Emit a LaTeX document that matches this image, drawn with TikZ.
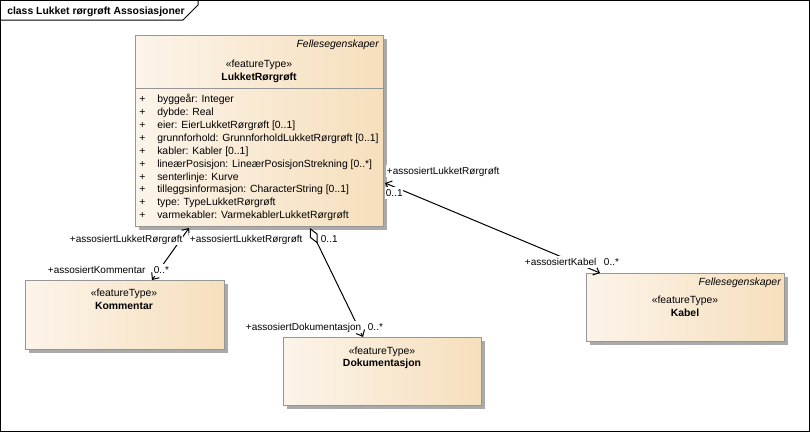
\documentclass[tikz,border=0pt]{standalone}
\usepackage{fontspec}
\setmainfont{Liberation Sans}
\usetikzlibrary{arrows.meta,shadows,calc}
\definecolor{boxL}{RGB}{252,244,234}
\definecolor{boxR}{RGB}{246,223,188}
\definecolor{boxB}{RGB}{150,150,150}
\definecolor{shad}{RGB}{170,170,170}
\begin{document}
\begin{tikzpicture}[x=0.75pt,y=-0.75pt,
  font=\fontsize{7.8pt}{9pt}\selectfont,
  umlbox/.style={draw=boxB, line width=0.75pt, left color=boxL, right color=boxR,
    anchor=north west, inner sep=0pt,
    general shadow={fill=shad, shadow xshift=2.25pt, shadow yshift=-2.25pt}},
  txt/.style={inner sep=0pt, text height=6pt, text depth=0.6pt},
  lbl/.style={txt, anchor=west, fill=white, inner xsep=0.5pt, inner ysep=1.2pt,
    font=\fontsize{7.5pt}{9pt}\selectfont},
  conn/.style={line width=0.75pt, black},
  barbtip/.tip={Straight Barb[length=4pt,width=7pt]}
]
\useasboundingbox (0,0) rectangle (810,432);
% frame
\draw[line width=0.75pt] (0.5,0.5) rectangle (809.5,431.5);
\draw[line width=0.75pt] (0.5,20) -- (183,20) -- (198,5) -- (198,0.5);
\node[txt, anchor=west, font=\fontsize{7.8pt}{9pt}\selectfont\bfseries] (title) at (7,11) {class Lukket rørgrøft Assosiasjoner};

% boxes
\node[umlbox, minimum width=248*0.75pt, minimum height=191*0.75pt] (main) at (135,35) {};
\draw[draw=boxB, line width=0.75pt] ($(main.north west)+(0,53)$) -- ($(main.north east)+(0,53)$);
\node[umlbox, minimum width=199*0.75pt, minimum height=69*0.75pt] (kom) at (25,280) {};
\node[umlbox, minimum width=198*0.75pt, minimum height=68*0.75pt] (dok) at (283,337) {};
\node[umlbox, minimum width=198*0.75pt, minimum height=68*0.75pt] (kab) at (586,273) {};

% main texts
\node[txt, anchor=east, font=\fontsize{7.8pt}{9pt}\selectfont\itshape] (mfe) at (379,44) {Fellesegenskaper};
\node[txt] (mst) at (259,64) {«featureType»};
\node[txt, font=\fontsize{7.8pt}{9pt}\selectfont\bfseries] (mnm) at (259,77) {LukketRørgrøft};
\foreach \t [count=\i from 0] in {
  {byggeår: Integer},
  {dybde: Real},
  {eier: EierLukketRørgrøft [0..1]},
  {grunnforhold: GrunnforholdLukketRørgrøft [0..1]},
  {kabler: Kabler [0..1]},
  {lineærPosisjon: LineærPosisjonStrekning [0..*]},
  {senterlinje: Kurve},
  {tilleggsinformasjon: CharacterString [0..1]},
  {type: TypeLukketRørgrøft},
  {varmekabler: VarmekablerLukketRørgrøft}} {
  \node[txt, anchor=west] (p\i) at (139,99.3+12.86*\i) {+};
  \node[txt, anchor=west] (a\i) at (157,99.3+12.86*\i) {\t};
}

% Kommentar texts
\node[txt] (kst) at (124,293) {«featureType»};
\node[txt, font=\fontsize{7.8pt}{9pt}\selectfont\bfseries] (knm) at (124,306) {Kommentar};
% Dokumentasjon texts
\node[txt] (dst) at (382,351) {«featureType»};
\node[txt, font=\fontsize{7.8pt}{9pt}\selectfont\bfseries] (dnm) at (382,363) {Dokumentasjon};
% Kabel texts
\node[txt, anchor=east, font=\fontsize{7.8pt}{9pt}\selectfont\itshape] (kfe) at (781,282) {Fellesegenskaper};
\node[txt] (kbst) at (685,300) {«featureType»};
\node[txt, font=\fontsize{7.8pt}{9pt}\selectfont\bfseries] (kbnm) at (685,313) {Kabel};

% connectors
\draw[conn, barbtip-barbtip]
  ($(main.south west)+(54,1)$) -- ($(kom.north west)+(127,0)$);
\draw[conn, {Diamond[open,length=13pt,width=6.5pt]}-barbtip]
  ($(main.south west)+(175,1)$) -- ($(dok.north west)+(80,0)$);
\draw[conn, barbtip-barbtip]
  ($(main.north east)+(1,148)$) -- ($(kab.north west)+(14,0)$);

% labels
\node[lbl] (l1) at (69,239) {+assosiertLukketRørgrøft};
\node[lbl] (l2) at (189,239) {+assosiertLukketRørgrøft};
\node[lbl] (l3) at (320,239) {0..1};
\node[lbl] (l4) at (47,270) {+assosiertKommentar};
\node[lbl] (l5) at (153,270) {0..*};
\node[lbl] (l6) at (245,327) {+assosiertDokumentasjon};
\node[lbl] (l7) at (367,327) {0..*};
\node[lbl] (l8) at (386,171) {+assosiertLukketRørgrøft};
\node[lbl] (l9) at (385,193) {0..1};
\node[lbl] (l10) at (524,262) {+assosiertKabel};
\node[lbl] (l11) at (603,262) {0..*};
\end{tikzpicture}
\end{document}
